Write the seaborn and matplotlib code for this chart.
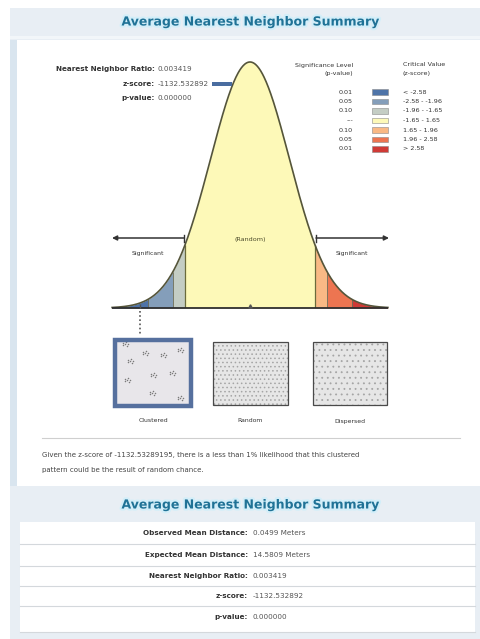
import numpy as np
import matplotlib
matplotlib.use("Agg")
import matplotlib.pyplot as plt
import matplotlib.patheffects as pe
from matplotlib.patches import Rectangle
import seaborn as sns

# ---------------- data ----------------
title = "Average Nearest Neighbor Summary"
crit_bounds = [-3.5, -2.58, -1.96, -1.65, 1.65, 1.96, 2.58, 3.5]
region_colors = ["#4f74a8", "#849eba", "#c4cdc4", "#fdf9b8", "#f9b985", "#ed7551", "#d03a36"]
legend_p = ["0.01", "0.05", "0.10", "---", "0.10", "0.05", "0.01"]
legend_z = ["< -2.58", "-2.58 - -1.96", "-1.96 - -1.65", "-1.65 - 1.65",
            "1.65 - 1.96", "1.96 - 2.58", "> 2.58"]
head_labels = ["Nearest Neighbor Ratio:", "z-score:", "p-value:"]
head_values = ["0.003419", "-1132.532892", "0.000000"]
observed_z = -2.79          # position of the marker on the curve (off-scale, clamped)
pattern_labels = ["Clustered", "Random", "Dispersed"]
cluster_centers_x = [145, 130, 163, 127, 153, 172, 152, 180, 125, 180]
cluster_centers_y = [353, 361, 355, 380, 375, 373, 393, 350, 344, 398]
cluster_offsets_x = [0, 2.5, -2.0, 1.0, -1.5, 3.0]
cluster_offsets_y = [0, 1.5, 1.0, -2.0, -1.5, -0.5]
description = ["Given the z-score of -1132.53289195, there is a less than 1% likelihood that this clustered",
               "pattern could be the result of random chance."]
summary_labels = ["Observed Mean Distance:", "Expected Mean Distance:", "Nearest Neighbor Ratio:",
                  "z-score:", "p-value:"]
summary_values = ["0.0499 Meters", "14.5809 Meters", "0.003419", "-1132.532892", "0.000000"]

# ---------------- figure ----------------
W, H = 481, 639
fig = plt.figure(figsize=(W / 100, H / 100), dpi=100)
plt.rcParams['hatch.linewidth'] = 0.6


def pix_axes(z):
    a = fig.add_axes([0, 0, 1, 1], zorder=z)
    a.set_xlim(0, W)
    a.set_ylim(H, 0)
    a.axis("off")
    a.patch.set_alpha(0)
    return a


def rect(ax, x0, y0, x1, y1, **kw):
    ax.add_patch(Rectangle((x0, y0), x1 - x0, y1 - y0, **kw))


bg = pix_axes(0)
rect(bg, 0, 0, W, H, fc="white", lw=0)
rect(bg, 10, 8, W, H, fc="#e8eef4", lw=0)
rect(bg, 10, 36, W, 39, fc="#f2f6f9", lw=0)
rect(bg, 10, 40, 17, 486, fc="#d9e5ef", lw=0)
rect(bg, 17, 40, W, 486, fc="white", lw=0)
rect(bg, 20, 522, 475, 632, fc="white", lw=0)

TITLE_COLOR = "#1f7296"
glow = [pe.withStroke(linewidth=3, foreground="#d3eef9")]
bg.text(250, 22, title, ha="center", va="center", fontsize=9, fontweight="bold",
        color=TITLE_COLOR, path_effects=glow, zorder=3)
bg.text(250, 505, title, ha="center", va="center", fontsize=9, fontweight="bold",
        color=TITLE_COLOR, path_effects=glow, zorder=3)

# ---------------- bell curve ----------------
base_y, peak_y, cx, sig = 308, 62, 250, 39.4
xl = 3.6
ax = fig.add_axes([(cx - xl * sig) / W, 1 - base_y / H, 2 * xl * sig / W, (base_y - peak_y) / H], zorder=1)
ax.patch.set_alpha(0)
ax.axis("off")


def pdf(v):
    return np.exp(-np.asarray(v) ** 2 / 2) / np.sqrt(2 * np.pi)


for i in range(len(region_colors)):
    zz = np.linspace(crit_bounds[i], crit_bounds[i + 1], 120)
    ax.fill_between(zz, pdf(zz), 0, color=region_colors[i], lw=0)
inner = crit_bounds[1:-1]
ax.vlines(inner, 0, pdf(inner), color="#6a6a55", lw=0.6)
ax.vlines([-1.65, 1.65], 0, pdf([-1.65, 1.65]), color="#6b6b3c", lw=0.9)
zc = np.linspace(-3.5, 3.5, 500)
sns.lineplot(x=zc, y=pdf(zc), ax=ax, color="#55553a", lw=1.2)
ax.plot([-3.5, 3.5], [0, 0], color="#2f2f2f", lw=1.3, solid_capstyle="butt")
ax.plot([0], [0.004], marker="^", ms=2.5, color="#555")
ax.plot([observed_z], [0.004], marker="|", ms=3, color="#555")
ax.set_xlim(-xl, xl)
ax.set_ylim(0, float(pdf(0)))
for ln in ax.lines:
    ln.set_clip_on(False)

# ---------------- overlay ----------------
ov = pix_axes(2)
TXT = "#333333"
VAL = "#555555"

# header stats
for i, (lab, val) in enumerate(zip(head_labels, head_values)):
    y = 69 + i * 14.5
    ov.text(155, y, lab, ha="right", va="center", fontsize=5.2, fontweight="bold", color=TXT)
    ov.text(158, y, val, ha="left", va="center", fontsize=5.2, color=VAL)
rect(ov, 212, 81.5, 232, 86, fc="#4a6da0", lw=0)

# legend
ov.text(353, 65, "Significance Level", ha="right", va="center", fontsize=4.6, color=TXT)
ov.text(353, 73, "(p-value)", ha="right", va="center", fontsize=4.6, color=TXT)
ov.text(403, 65, "Critical Value", ha="left", va="center", fontsize=4.6, color=TXT)
ov.text(403, 73, "(z-score)", ha="left", va="center", fontsize=4.6, color=TXT)
for i, (p, zv) in enumerate(zip(legend_p, legend_z)):
    y = 92 + i * 9.5
    ov.text(353, y, p, ha="right", va="center", fontsize=4.6, color=TXT)
    rect(ov, 372, y - 2.8, 388, y + 2.8, fc=region_colors[i], ec="#8a8a8a", lw=0.4)
    ov.text(403, y, zv, ha="left", va="center", fontsize=4.6, color=TXT)

# arrows
AR = "#333333"
ov.annotate("", xy=(112, 238), xytext=(184, 238),
            arrowprops=dict(arrowstyle="-|>", color=AR, lw=1.1, mutation_scale=7, shrinkA=0, shrinkB=0))
ov.plot([184, 184], [234.5, 241.5], color=AR, lw=1.0)
ov.annotate("", xy=(389, 238), xytext=(316, 238),
            arrowprops=dict(arrowstyle="-|>", color=AR, lw=1.1, mutation_scale=7, shrinkA=0, shrinkB=0))
ov.plot([316, 316], [234.5, 241.5], color=AR, lw=1.0)
ov.text(148, 254, "Significant", ha="center", va="center", fontsize=4.4, color=TXT)
ov.text(352, 254, "Significant", ha="center", va="center", fontsize=4.4, color=TXT)
ov.text(250, 239, "(Random)", ha="center", va="center", fontsize=4.6, color="#4a4a2a")

# dotted connector to clustered box
ox = cx + observed_z * sig
ov.plot([ox, ox], [311, 336], color="#555", lw=1.2, ls=(0, (1, 1.5)))

# pattern boxes
# clustered
rect(ov, 113, 338, 193, 408, fc="#e8e6ea", ec="none")
for cxp, cyp in zip(cluster_centers_x, cluster_centers_y):
    ov.scatter([cxp + dx for dx in cluster_offsets_x], [cyp + dy for dy in cluster_offsets_y],
               s=1.2, color="#7a7a7a", lw=0)
rect(ov, 115, 340, 191, 406, fc="none", ec="#56709e", lw=3.2)
# random
rect(ov, 213, 342, 288, 405, fc="#e6e6e6", ec="#a5a5a5", hatch="....", lw=0)
rect(ov, 213, 342, 288, 405, fc="none", ec="#4a4a4a", lw=0.9)
# dispersed
rect(ov, 313, 342, 387, 405, fc="#e6e6e6", ec="#a5a5a5", hatch="...", lw=0)
rect(ov, 313, 342, 387, 405, fc="none", ec="#4a4a4a", lw=0.9)
for lab, x in zip(pattern_labels, [153, 250, 350]):
    ov.text(x, 421, lab, ha="center", va="center", fontsize=4.4, color=TXT)

# separator + description
ov.plot([42, 460], [438, 438], color="#cfcfcf", lw=0.8)
ov.text(42, 455, description[0], ha="left", va="center", fontsize=5.0, color="#444")
ov.text(42, 470, description[1], ha="left", va="center", fontsize=5.0, color="#444")

# summary table
row_y = [533, 555, 576, 596, 617]
for sy in [544, 566, 586, 606]:
    ov.plot([20, 475], [sy, sy], color="#d4d8dc", lw=0.8)
ov.plot([20, 475], [632, 632], color="#d4d8dc", lw=0.8)
for lab, val, y in zip(summary_labels, summary_values, row_y):
    ov.text(248, y, lab, ha="right", va="center", fontsize=5.2, fontweight="bold", color=TXT)
    ov.text(253, y, val, ha="left", va="center", fontsize=5.2, color=VAL)

fig.savefig("out.png", dpi=100)
